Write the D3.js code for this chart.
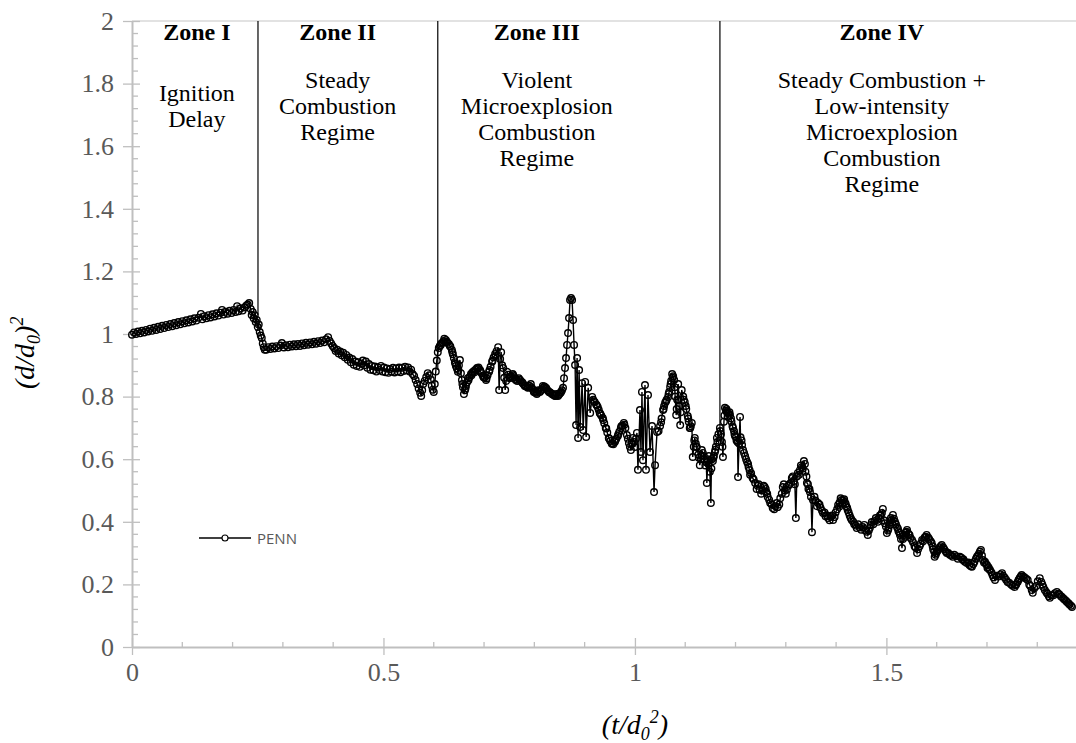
<!DOCTYPE html>
<html><head><meta charset="utf-8">
<script src="https://cdn.jsdelivr.net/npm/d3@7"></script>
<style>body{margin:0;background:#fff}svg{display:block}</style>
</head><body>
<svg id="c" width="1076" height="743"></svg>
<script>
// ---- data (t/d0^2 , (d/d0)^2) ----
const tVals = [
// zone I
0.000,0.004,0.008,0.012,0.016,0.020,0.024,0.028,0.032,0.036,0.040,0.044,0.048,0.052,0.056,0.060,0.064,0.068,0.072,0.076,
0.080,0.084,0.088,0.092,0.096,0.100,0.104,0.108,0.112,0.116,0.120,0.124,0.128,0.132,0.137,0.140,0.144,0.148,0.152,0.156,
0.160,0.164,0.168,0.172,0.176,0.179,0.182,0.186,0.190,0.194,0.198,0.202,0.206,0.209,0.212,0.216,0.220,0.224,0.227,0.230,
0.233,0.236,0.238,0.240,0.242,0.244,0.246,0.248,0.250,0.252,0.254,0.256,0.258,0.260,0.262,0.264,
// zone II
0.267,0.271,0.275,0.279,0.283,0.287,0.291,0.295,0.298,0.302,0.306,0.310,0.314,0.318,0.322,0.326,0.330,0.334,0.338,0.342,
0.346,0.350,0.354,0.358,0.362,0.366,0.370,0.374,0.378,0.382,0.386,0.390,0.393,0.396,0.399,0.402,0.405,0.408,0.411,0.414,
0.417,0.420,0.423,0.426,0.429,0.432,0.435,0.438,0.441,0.444,0.447,0.450,0.453,0.456,0.459,0.462,0.465,0.468,0.471,0.474,
0.477,0.480,0.483,0.486,0.489,0.492,0.495,0.498,0.501,0.504,0.507,0.510,0.513,0.516,0.519,0.522,0.525,0.528,0.531,0.534,
0.537,0.540,0.543,0.546,0.549,0.552,0.555,0.558,0.561,0.564,0.567,0.570,0.573,0.575,0.577,0.579,0.582,0.585,0.588,0.591,
0.594,0.596,0.598,0.600,0.602,0.604,0.606,
// zone III
0.608,0.610,0.612,0.615,0.618,0.621,0.624,0.627,0.630,0.633,0.636,0.638,0.640,0.642,0.644,0.646,0.648,0.650,0.652,0.654,
0.656,0.658,0.660,0.662,0.664,0.666,0.668,0.671,0.674,0.677,0.680,0.683,0.686,0.689,0.692,0.695,0.698,0.701,0.704,0.707,
0.710,0.713,0.716,0.719,0.722,0.725,0.728,0.730,0.732,0.734,0.736,0.738,0.740,0.742,0.744,0.746,0.748,0.751,0.754,0.757,
0.760,0.763,0.766,0.769,0.772,0.775,0.778,0.781,0.784,0.787,0.790,0.793,0.796,0.799,0.802,0.805,0.808,0.811,0.814,0.817,
0.820,0.823,0.826,0.829,0.832,0.835,0.838,0.841,0.844,0.847,0.850,0.853,0.855,0.857,0.859,0.861,0.863,0.865,0.867,0.869,
0.871,0.873,0.875,0.877,0.879,0.881,0.883,0.885,0.887,0.889,0.891,0.895,0.897,0.901,0.903,0.907,0.911,0.915,0.917,0.920,
0.923,0.926,0.928,0.930,0.933,0.936,0.939,0.942,0.945,0.948,0.951,0.954,0.957,0.960,0.963,0.966,0.969,0.972,0.975,0.978,
0.981,0.984,0.986,0.988,0.990,0.992,0.994,0.996,0.998,1.000,1.002,1.004,1.006,1.010,1.012,1.014,1.016,1.020,1.022,1.026,
1.030,1.034,1.038,1.040,1.044,1.047,1.050,1.053,1.056,1.058,1.060,1.063,1.066,1.068,1.070,1.072,1.074,1.076,1.078,1.080,
1.082,1.084,1.086,1.088,1.090,1.093,1.096,1.099,1.102,1.105,1.107,1.109,1.111,1.113,1.115,1.117,1.119,1.121,1.123,1.126,
1.129,1.131,1.133,1.135,1.137,1.140,1.143,1.145,1.147,1.149,1.151,1.153,1.155,1.157,1.159,1.161,1.163,1.166,
// zone IV
1.169,1.171,1.173,1.175,1.177,1.179,1.181,1.183,1.186,1.189,1.192,1.195,1.197,1.199,1.202,1.205,1.207,1.209,1.212,1.215,
1.219,1.223,1.226,1.229,1.234,1.239,1.244,1.248,1.253,1.258,1.261,1.264,1.269,1.274,1.279,1.284,1.289,1.294,1.298,1.302,
1.307,1.312,1.316,1.320,1.324,1.328,1.332,1.336,1.339,1.342,1.345,1.348,1.350,1.352,1.354,1.359,1.364,1.369,1.374,1.379,
1.384,1.389,1.394,1.399,1.404,1.407,1.411,1.414,1.417,1.420,1.423,1.427,1.431,1.436,1.441,1.447,1.453,1.458,1.463,1.467,
1.471,1.476,1.481,1.485,1.489,1.493,1.497,1.501,1.504,1.507,1.510,1.513,1.517,1.521,1.524,1.527,1.531,1.533,1.535,1.538,
1.541,1.546,1.551,1.556,1.561,1.566,1.571,1.576,1.580,1.585,1.590,1.593,1.596,1.599,1.602,1.606,1.610,1.615,1.620,1.626,
1.632,1.639,1.646,1.652,1.653,1.660,1.665,1.670,1.675,1.680,1.684,1.688,1.690,1.692,1.696,1.700,1.703,1.706,1.711,1.716,
1.723,1.730,1.735,1.741,1.748,1.755,1.758,1.761,1.765,1.769,1.775,1.781,1.786,1.791,1.798,1.805,1.810,1.815,1.820,1.825,
1.832,1.839,1.844,1.849,1.854,1.859,1.864,1.869
];
const dVals = [
// zone I
0.998,1.005,1.000,1.008,1.002,1.010,1.005,1.013,1.008,1.017,1.010,1.020,1.013,1.023,1.016,1.026,1.019,1.029,1.022,1.032,
1.025,1.035,1.028,1.038,1.031,1.041,1.034,1.044,1.037,1.047,1.040,1.050,1.043,1.052,1.064,1.047,1.057,1.050,1.060,1.053,
1.063,1.056,1.066,1.059,1.068,1.077,1.062,1.071,1.065,1.074,1.067,1.077,1.070,1.089,1.073,1.082,1.075,1.085,1.090,1.094,
1.099,1.080,1.061,1.070,1.050,1.060,1.038,1.045,1.022,1.030,1.006,0.995,0.987,0.970,0.958,0.950,
// zone II
0.950,0.958,0.952,0.960,0.954,0.961,0.955,0.963,0.971,0.957,0.964,0.958,0.966,0.960,0.967,0.961,0.968,0.962,0.970,0.964,
0.972,0.966,0.973,0.967,0.975,0.969,0.977,0.971,0.979,0.974,0.983,0.990,0.978,0.970,0.962,0.955,0.946,0.950,0.938,0.944,
0.932,0.940,0.926,0.933,0.918,0.925,0.910,0.920,0.902,0.912,0.898,0.910,0.895,0.905,0.915,0.900,0.912,0.892,0.904,0.886,
0.898,0.884,0.896,0.880,0.893,0.885,0.898,0.880,0.893,0.878,0.890,0.876,0.888,0.880,0.892,0.877,0.890,0.880,0.893,0.878,
0.892,0.882,0.895,0.884,0.893,0.880,0.886,0.872,0.866,0.853,0.840,0.826,0.812,0.802,0.820,0.840,0.850,0.862,0.875,0.868,
0.855,0.835,0.822,0.815,0.840,0.880,0.915,
// zone III
0.942,0.955,0.962,0.970,0.974,0.985,0.981,0.972,0.968,0.960,0.949,0.935,0.923,0.910,0.898,0.890,0.879,0.900,0.917,0.875,
0.853,0.830,0.808,0.820,0.834,0.845,0.859,0.862,0.872,0.878,0.882,0.886,0.891,0.893,0.885,0.875,0.866,0.860,0.853,0.868,
0.879,0.895,0.911,0.925,0.936,0.945,0.958,0.821,0.920,0.942,0.900,0.891,0.860,0.821,0.850,0.879,0.870,0.859,0.865,0.872,
0.862,0.853,0.850,0.859,0.852,0.847,0.840,0.834,0.832,0.828,0.835,0.840,0.825,0.815,0.812,0.808,0.820,0.815,0.822,0.834,
0.832,0.828,0.820,0.815,0.812,0.808,0.805,0.802,0.808,0.802,0.808,0.815,0.820,0.828,0.859,0.891,0.923,0.965,1.003,1.051,
1.109,1.115,1.109,1.045,0.965,0.901,0.709,0.923,0.668,0.885,0.703,0.843,0.693,0.847,0.671,0.828,0.748,0.799,0.790,0.783,
0.775,0.767,0.758,0.748,0.740,0.732,0.715,0.700,0.685,0.668,0.658,0.649,0.648,0.655,0.665,0.674,0.688,0.700,0.708,0.716,
0.700,0.677,0.665,0.652,0.640,0.629,0.650,0.668,0.655,0.639,0.665,0.684,0.566,0.757,0.623,0.815,0.597,0.837,0.566,0.805,
0.623,0.706,0.495,0.581,0.687,0.690,0.706,0.730,0.757,0.770,0.780,0.790,0.799,0.815,0.831,0.850,0.872,0.865,0.853,0.800,
0.741,0.790,0.840,0.770,0.709,0.821,0.800,0.783,0.760,0.738,0.720,0.700,0.705,0.716,0.607,0.640,0.668,0.650,0.639,0.615,
0.581,0.600,0.629,0.620,0.610,0.580,0.524,0.600,0.610,0.560,0.460,0.600,0.594,0.610,0.623,0.640,0.668,0.680,
// zone IV
0.700,0.680,0.655,0.607,0.720,0.764,0.755,0.751,0.745,0.741,0.720,0.700,0.690,0.674,0.660,0.543,0.650,0.735,0.660,0.629,
0.610,0.591,0.575,0.550,0.540,0.524,0.515,0.502,0.500,0.511,0.495,0.479,0.460,0.444,0.450,0.447,0.475,0.511,0.500,0.502,
0.520,0.540,0.530,0.412,0.556,0.565,0.575,0.594,0.560,0.524,0.505,0.495,0.480,0.367,0.470,0.468,0.460,0.445,0.428,0.418,
0.412,0.415,0.406,0.430,0.454,0.462,0.470,0.468,0.463,0.450,0.438,0.420,0.406,0.392,0.380,0.382,0.383,0.372,0.358,0.380,
0.399,0.402,0.406,0.412,0.422,0.441,0.395,0.364,0.378,0.390,0.405,0.422,0.400,0.383,0.370,0.358,0.316,0.345,0.358,0.365,
0.374,0.358,0.342,0.322,0.300,0.322,0.342,0.350,0.358,0.345,0.332,0.312,0.288,0.300,0.310,0.318,0.326,0.312,0.300,0.295,
0.288,0.290,0.288,0.278,0.280,0.268,0.262,0.256,0.272,0.288,0.298,0.310,0.292,0.278,0.272,0.262,0.255,0.246,0.230,0.214,
0.225,0.236,0.222,0.208,0.200,0.192,0.200,0.208,0.220,0.230,0.222,0.214,0.195,0.173,0.195,0.220,0.200,0.182,0.170,0.157,
0.165,0.176,0.168,0.160,0.152,0.144,0.136,0.128
];
// further readings across the width of the scattered band
const tExtra = [
0.614,0.620,0.626,0.632,0.637,0.643,0.649,0.657,0.663,0.669,0.675,0.681,0.687,0.693,0.699,0.705,0.711,0.717,0.723,0.752,
0.758,0.764,0.770,0.776,0.782,0.788,0.794,0.800,0.806,0.812,0.818,0.824,0.830,0.836,0.842,0.848,0.852,
0.918,0.924,0.931,0.937,0.943,0.949,0.955,0.961,0.967,0.973,0.979,
1.052,1.057,1.062,1.067,1.071,1.075,1.079,1.083,1.087,1.091,1.097,1.101,1.106,1.110,1.118,1.122,1.127,1.132,1.138,1.142,
1.146,1.152,1.156,1.160,1.164,
1.170,1.174,1.178,1.182,1.185,1.188,1.191,1.194,1.198,1.201,1.204,1.210,1.213,1.217,1.221,1.225,1.228,1.231,
1.236,1.242,1.246,1.251,1.256,1.260,1.263,1.267,1.272,1.277,1.282,1.287,1.292,1.296,1.300,1.305,1.310,1.314,1.318,1.322,
1.326,1.330,1.334,1.338,1.341,1.344,1.347,1.357,1.362,1.367,1.372,1.377,1.382,1.387,1.392,1.397,1.402,1.406,1.409,1.413,
1.416,1.419,1.422,1.425,1.429,1.434,1.439,1.444,1.450,1.456,1.461,1.465,1.469,1.474,1.479,1.483,1.487,1.491,1.495,1.499,
1.503,1.506,1.509,1.512,1.515,1.519,1.523,1.526,1.529,1.537,1.540,1.544,1.548,1.553,1.558,1.563,1.568,1.573,1.578,1.583,
1.588,1.592,1.595,1.598,1.601,1.604,1.608,1.613,1.618,1.623,1.629,1.635,1.642,1.649,1.656,1.663,1.668,1.673,1.678,1.682,
1.686,1.694,1.698,1.701,1.705,1.709,1.713,1.719,1.727,1.732,1.738,1.744,1.751,1.757,1.763,1.767,1.772,1.778,1.784,1.789,
1.794,1.801,1.808,1.812,1.818,1.823,1.828,1.835,1.842,1.847,1.852,1.857,1.862,1.867
];
const dExtra = [
0.965,0.978,0.975,0.962,0.942,0.905,0.885,0.840,0.826,0.852,0.868,0.878,0.888,0.880,0.862,0.858,0.885,0.915,0.930,0.862,
0.868,0.856,0.855,0.845,0.835,0.830,0.830,0.818,0.812,0.818,0.828,0.825,0.815,0.808,0.803,0.805,0.812,
0.785,0.772,0.745,0.725,0.698,0.665,0.652,0.660,0.680,0.705,0.710,
0.718,0.760,0.785,0.808,0.840,0.860,0.830,0.760,0.790,0.750,0.790,0.770,0.730,0.700,0.660,0.640,0.605,0.612,0.600,0.590,
0.585,0.570,0.605,0.630,0.655,
0.690,0.640,0.740,0.760,0.735,0.750,0.730,0.705,0.680,0.670,0.655,0.670,0.645,0.620,0.600,0.585,0.565,0.555,
0.535,0.505,0.520,0.490,0.515,0.505,0.490,0.470,0.455,0.440,0.460,0.455,0.490,0.520,0.490,0.515,0.525,0.545,0.520,0.545,
0.550,0.580,0.570,0.585,0.545,0.520,0.505,0.480,0.450,0.455,0.435,0.430,0.420,0.405,0.420,0.415,0.440,0.448,0.475,0.458,
0.472,0.458,0.445,0.430,0.412,0.400,0.388,0.392,0.375,0.390,0.368,0.372,0.390,0.392,0.412,0.400,0.420,0.428,0.405,0.385,
0.372,0.398,0.412,0.398,0.410,0.392,0.378,0.365,0.345,0.352,0.368,0.362,0.348,0.335,0.318,0.312,0.330,0.338,0.352,0.350,
0.338,0.322,0.305,0.295,0.305,0.312,0.322,0.318,0.305,0.300,0.292,0.295,0.282,0.285,0.272,0.270,0.258,0.265,0.282,0.292,
0.305,0.270,0.265,0.252,0.248,0.238,0.222,0.228,0.232,0.228,0.215,0.205,0.196,0.198,0.215,0.225,0.225,0.218,0.200,0.182,
0.188,0.210,0.208,0.192,0.175,0.162,0.165,0.172,0.170,0.162,0.155,0.148,0.140,0.132
];
const seriesName = "PENN";
const xTicks = [0, 0.5, 1, 1.5];
const xTickLabels = ["0", "0.5", "1", "1.5"];
const yTicks = [0, 0.2, 0.4, 0.6, 0.8, 1, 1.2, 1.4, 1.6, 1.8, 2];
const yTickLabels = ["0", "0.2", "0.4", "0.6", "0.8", "1", "1.2", "1.4", "1.6", "1.8", "2"];
const zoneBounds = [0.2505, 0.608, 1.169];
const zoneBoundEnds = [1.06, 0.885, 0.69];
const zoneTitles = ["Zone I", "Zone II", "Zone III", "Zone IV"];
const zoneCenters = [0.129, 0.409, 0.805, 1.491];
const zoneDescs = [
  ["Ignition", "Delay"],
  ["Steady", "Combustion", "Regime"],
  ["Violent", "Microexplosion", "Combustion", "Regime"],
  ["Steady Combustion +", "Low-intensity", "Microexplosion", "Combustion", "Regime"]
];
const zoneDescStart = [1.745, 1.786, 1.786, 1.786];

// ---- chart ----
const svg = d3.select("#c");
const x = d3.scaleLinear().domain([0, 1.877]).range([132, 1076]);
const y = d3.scaleLinear().domain([0, 2]).range([647, 21]);
const axisColor = "#bfbfbf", textColor = "#595959";
const serif = "'Liberation Serif','Times New Roman',serif";

svg.append("line").attr("x1", x(0)).attr("x2", x(1.877)).attr("y1", y(2)).attr("y2", y(2))
  .attr("stroke", "#d9d9d9").attr("stroke-width", 1.3);

const xMinor = d3.range(1, 19).map(i => i / 10).filter(v => Math.abs(v * 2 - Math.round(v * 2)) > 1e-6);
svg.append("g").selectAll("line").data(xMinor).join("line")
  .attr("x1", d => x(d)).attr("x2", d => x(d)).attr("y1", y(0) - 5).attr("y2", y(0))
  .attr("stroke", axisColor).attr("stroke-width", 1.3);
const yMinor = d3.range(1, 50).map(i => i * 0.04).filter(v => Math.abs(v * 5 - Math.round(v * 5)) > 1e-6);
svg.append("g").selectAll("line").data(yMinor).join("line")
  .attr("x1", x(0)).attr("x2", x(0) + 6).attr("y1", d => y(d)).attr("y2", d => y(d))
  .attr("stroke", axisColor).attr("stroke-width", 1.3);

const gx = svg.append("g").attr("transform", `translate(0,${y(0)})`)
  .call(d3.axisBottom(x).tickValues(xTicks).tickFormat((d, i) => xTickLabels[i]).tickSize(8).tickSizeOuter(0).tickPadding(8));
gx.select(".domain").attr("stroke", axisColor).attr("stroke-width", 2);
gx.selectAll(".tick line").attr("stroke", axisColor).attr("stroke-width", 1.3).attr("y1", -9);
gx.selectAll(".tick text").attr("fill", textColor).attr("font-family", serif).attr("font-size", 26);

const gy = svg.append("g").attr("transform", `translate(${x(0)},0)`)
  .call(d3.axisLeft(y).tickValues(yTicks).tickFormat((d, i) => yTickLabels[i]).tickSize(9).tickSizeOuter(0).tickPadding(9));
gy.select(".domain").attr("stroke", axisColor).attr("stroke-width", 2);
gy.selectAll(".tick line").attr("stroke", axisColor).attr("stroke-width", 1.3).attr("x1", 8);
gy.selectAll(".tick text").attr("fill", textColor).attr("font-family", serif).attr("font-size", 26);

svg.append("g").selectAll("line").data(zoneBounds).join("line")
  .attr("x1", d => x(d)).attr("x2", d => x(d))
  .attr("y1", y(2)).attr("y2", (d, i) => y(zoneBoundEnds[i]))
  .attr("stroke", "#000").attr("stroke-width", 1.2);

const pts = tVals.map((t, i) => [t, dVals[i]])
  .concat(tExtra.map((t, i) => [t, dExtra[i]]))
  .sort((a, b) => a[0] - b[0]);
svg.append("path").datum(pts)
  .attr("d", d3.line().x(d => x(d[0])).y(d => y(d[1])))
  .attr("fill", "none").attr("stroke", "#000").attr("stroke-width", 1.4);
svg.append("g").selectAll("circle").data(pts).join("circle")
  .attr("cx", d => x(d[0])).attr("cy", d => y(d[1])).attr("r", 3.3)
  .attr("fill", "none").attr("stroke", "#000").attr("stroke-width", 1.4);

zoneTitles.forEach((tt, i) => {
  svg.append("text").attr("x", x(zoneCenters[i])).attr("y", 40).attr("text-anchor", "middle")
    .attr("font-family", serif).attr("font-weight", "bold").attr("font-size", 24).attr("fill", "#000").text(tt);
  zoneDescs[i].forEach((line, j) => {
    svg.append("text").attr("x", x(zoneCenters[i])).attr("y", y(zoneDescStart[i]) + j * 26)
      .attr("text-anchor", "middle").attr("font-family", serif).attr("font-size", 24)
      .attr("fill", "#000").text(line);
  });
});

const yt = svg.append("text").attr("transform", `translate(34,${y(0.94)}) rotate(-90)`)
  .attr("text-anchor", "middle").attr("font-family", serif).attr("font-style", "italic")
  .attr("font-size", 28).attr("fill", "#000");
yt.append("tspan").text("(d/d");
yt.append("tspan").attr("font-size", 18).attr("dy", 6).text("0");
yt.append("tspan").attr("dy", -6).text(")");
yt.append("tspan").attr("font-size", 18).attr("dy", -11).text("2");

const xt = svg.append("text").attr("x", x(1.0)).attr("y", 734)
  .attr("text-anchor", "middle").attr("font-family", serif).attr("font-style", "italic")
  .attr("font-size", 28).attr("fill", "#000");
xt.append("tspan").text("(t/d");
xt.append("tspan").attr("font-size", 18).attr("dy", 6).text("0");
xt.append("tspan").attr("font-size", 18).attr("dy", -17).text("2");
xt.append("tspan").attr("dy", 11).text(")");

const lg = svg.append("g");
lg.append("line").attr("x1", 199).attr("x2", 251).attr("y1", 538).attr("y2", 538).attr("stroke", "#000").attr("stroke-width", 1.3);
lg.append("circle").attr("cx", 225).attr("cy", 538).attr("r", 3).attr("fill", "#fff").attr("stroke", "#000").attr("stroke-width", 1.1);
lg.append("text").attr("x", 257).attr("y", 544).attr("font-family", "'Open Sans',sans-serif").attr("font-size", 15)
  .attr("fill", textColor).text(seriesName);
</script>
</body></html>
